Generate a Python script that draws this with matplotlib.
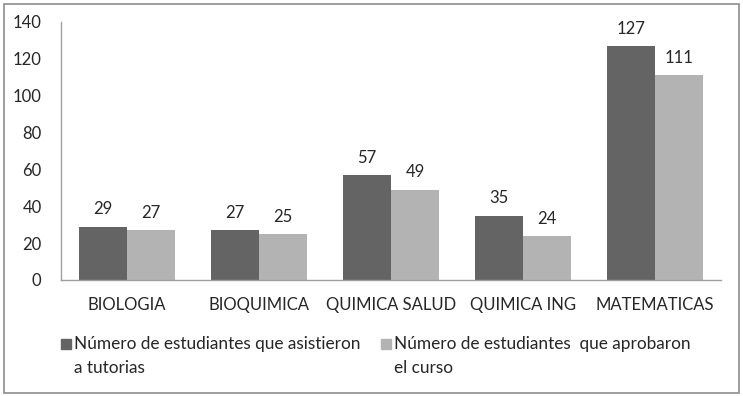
import matplotlib

matplotlib.use("Agg")
import matplotlib.pyplot as plt
import numpy as np
from matplotlib.patches import Rectangle

categories = ["BIOLOGIA", "BIOQUIMICA", "QUIMICA SALUD", "QUIMICA ING", "MATEMATICAS"]
asistieron = [29, 27, 57, 35, 127]
aprobaron = [27, 25, 49, 24, 111]
series_labels = ["Número de estudiantes que asistieron\na tutorias",
                 "Número de estudiantes  que aprobaron\nel curso"]
yticks = [0, 20, 40, 60, 80, 100, 120, 140]

dark = "#646464"
light = "#b3b3b3"
txt = "#262626"

plt.rcParams.update({"font.family": ["Lato", "DejaVu Sans"]})

W, H = 743, 396
fig = plt.figure(figsize=(W / 100, H / 100), dpi=100)
ax = fig.add_axes([61 / W, 1 - 280 / H, (721 - 61) / W, (280 - 22) / H])

x = np.arange(len(categories))
bw = 0.364
b1 = ax.bar(x - bw / 2, asistieron, bw, color=dark)
b2 = ax.bar(x + bw / 2, aprobaron, bw, color=light)
for bars, vals in ((b1, asistieron), (b2, aprobaron)):
    for r, v in zip(bars, vals):
        ax.text(r.get_x() + r.get_width() / 2, v + 5, str(v), ha="center",
                va="bottom", fontsize=12, color=txt)

ax.set_xlim(-0.5, len(categories) - 0.5)
ax.set_ylim(0, 140)
ax.set_yticks(yticks)
ax.set_xticks(x)
ax.set_xticklabels(categories)
ax.tick_params(axis="both", length=0, labelsize=12, labelcolor=txt)
ax.tick_params(axis="x", pad=12)
ax.tick_params(axis="y", pad=14)
for s in ("top", "right"):
    ax.spines[s].set_visible(False)
for s in ("left", "bottom"):
    ax.spines[s].set_color("#a0a0a0")
    ax.spines[s].set_linewidth(1.0)

# legend drawn by hand: square aligned with the first text line
for (sx, tx), color, label in zip([(61, 74), (381, 394)], [dark, light], series_labels):
    fig.patches.append(Rectangle((sx / W, 1 - 349 / H), 10 / W, 10 / H,
                                 transform=fig.transFigure, color=color))
    fig.text(tx / W, 1 - 336 / H, label, ha="left", va="top", fontsize=12.4,
             color=txt, linespacing=1.6)

fig.patches.append(Rectangle((4 / W, 3 / H), 735 / W, 389 / H, transform=fig.transFigure,
                             fill=False, edgecolor="#8c8c8c", linewidth=1.2))

fig.savefig("out.png", dpi=100)
